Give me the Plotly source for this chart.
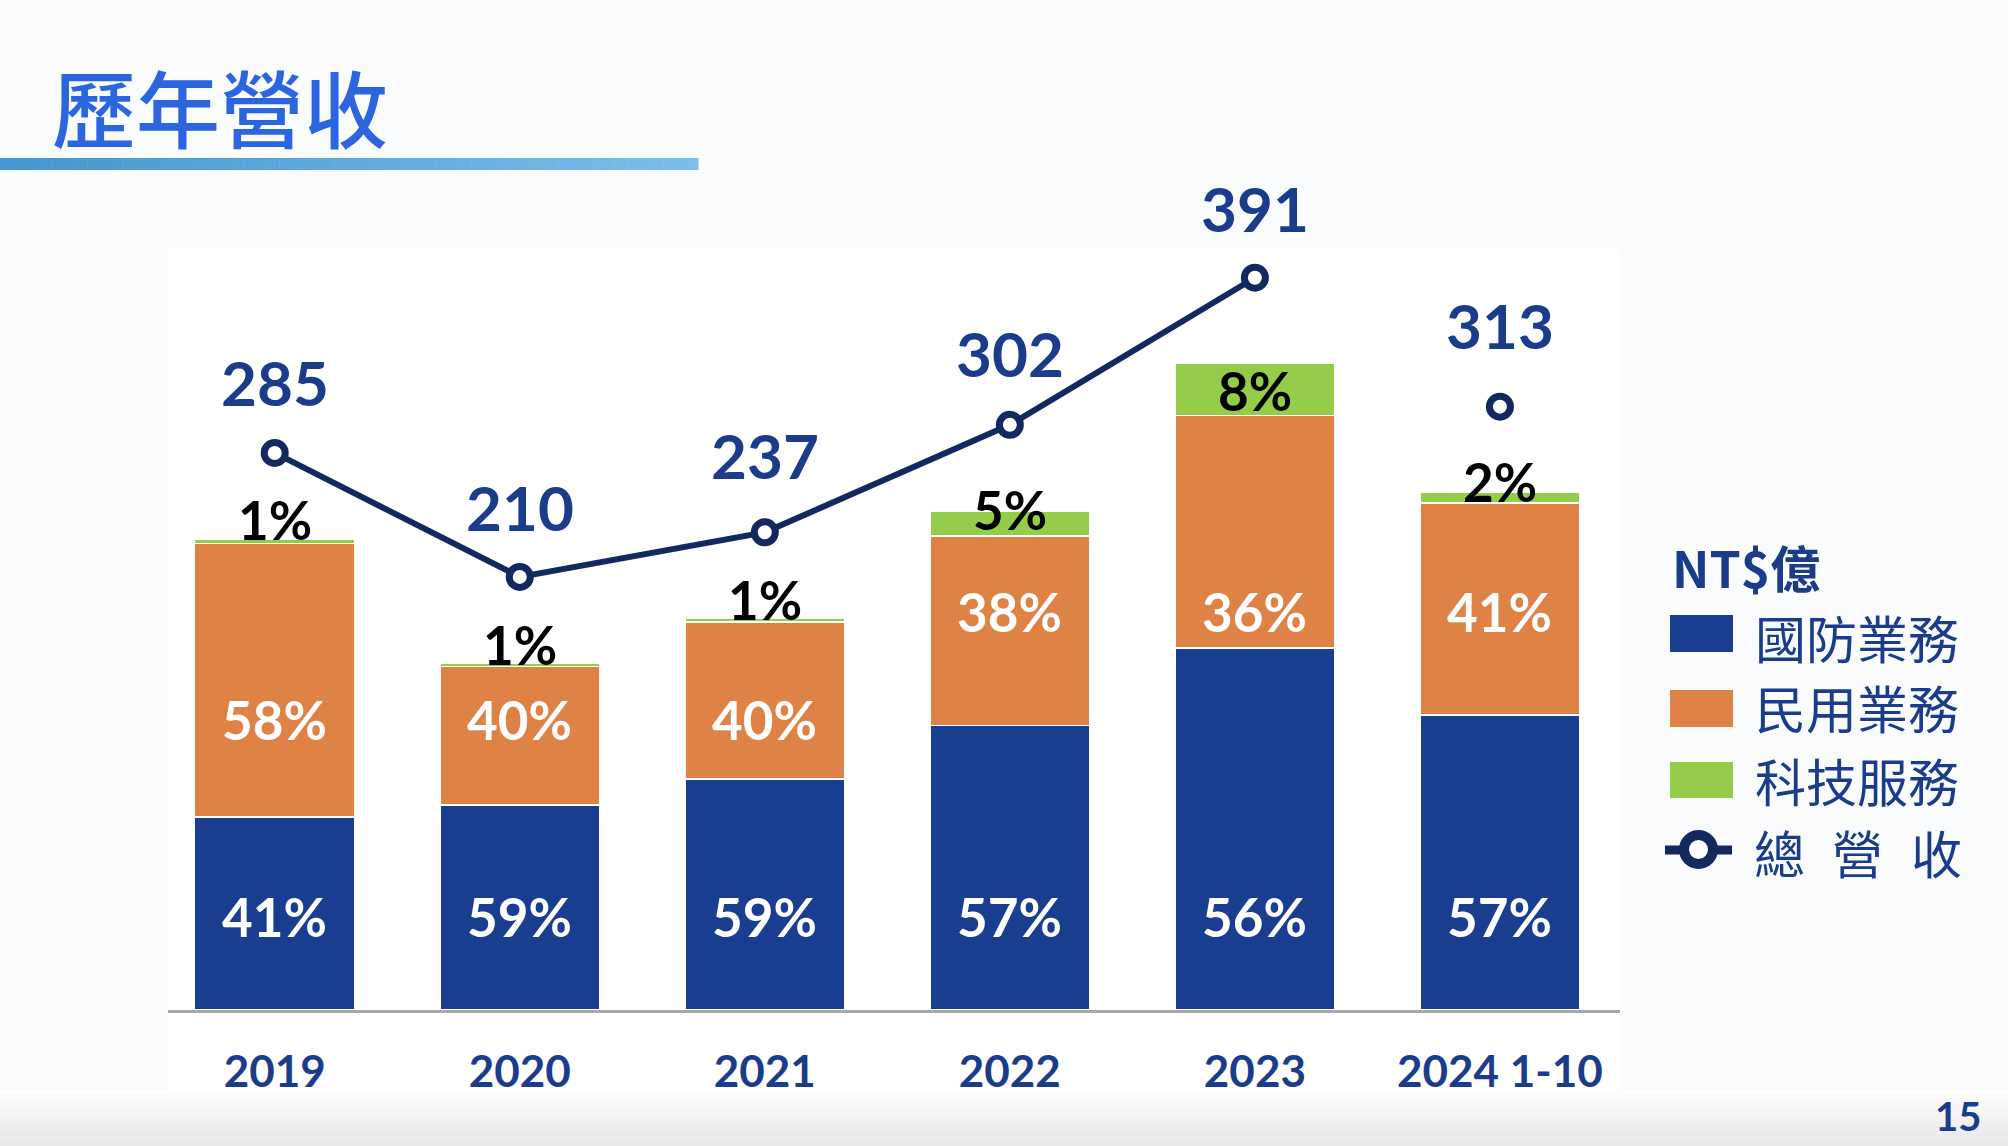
import plotly.graph_objects as go

# ---------------- data ----------------
categories = ["2019", "2020", "2021", "2022", "2023", "2024 1-10"]
defense = [116.9, 123.9, 139.8, 172.1, 219.0, 178.4]   # 國防業務 (NT$億)
civil = [165.3, 84.0, 94.8, 114.8, 140.8, 128.3]       # 民用業務
tech = [2.8, 2.1, 2.4, 15.1, 31.2, 6.3]                # 科技服務
total = [285, 210, 237, 302, 391, 313]                 # 總營收
defense_pct = ["41%", "59%", "59%", "57%", "56%", "57%"]
civil_pct = ["58%", "40%", "40%", "38%", "36%", "41%"]
tech_pct = ["1%", "1%", "1%", "5%", "8%", "2%"]

# ---------------- label placement (layout, data units) ----------------
defense_label_y = [56.5] * 6
civil_label_y = [176, 176, 176, 241, 241, 241]
tech_label_y = [296.5, 221, 248.4, 302.7, 374.7, 320]
total_label_shift = [71, 70, 77, 72, 70, 82]

# ---------------- styling ----------------
C_DEF = "#1A3E8F"
C_CIV = "#DF8245"
C_TECH = "#93CD4A"
C_LINE = "#13285F"
C_TXT = "#1A3C8A"
C_TITLE = "#2B66E0"
NUM_FONT = "Lato"
CJK_FONT = "Noto Sans CJK TC"

W, H = 2008, 1146
L, T, R_, B = 168, 249, 1620, 1010
Y_MAX = (B - T) / 1.653
LINE_OFF = 52


def fx(px):
    return (px - L) / (R_ - L)


def fy(py):
    return (B - py) / (B - T)


fig = go.Figure()
for name, vals, col in [("國防業務", defense, C_DEF), ("民用業務", civil, C_CIV), ("科技服務", tech, C_TECH)]:
    fig.add_trace(go.Bar(
        x=categories, y=vals, name=name,
        marker=dict(color=col, line=dict(color="white", width=1.5)),
        hoverinfo="skip",
    ))

fig.add_trace(go.Scatter(
    x=categories[:5], y=total[:5], yaxis="y2", mode="lines",
    line=dict(color=C_LINE, width=6), hoverinfo="skip",
))
fig.add_trace(go.Scatter(
    x=categories, y=total, yaxis="y2", mode="markers",
    marker=dict(size=21, color="white", line=dict(color=C_LINE, width=7)),
    hoverinfo="skip",
))

ann = []
for i, c in enumerate(categories):
    # category index used for x so numeric-looking category names are not read as numbers
    ann.append(dict(x=i, y=defense_label_y[i], xref="x", yref="y", text=defense_pct[i], showarrow=False,
                    font=dict(family=NUM_FONT, size=53, color="white", weight="bold")))
    ann.append(dict(x=i, y=civil_label_y[i], xref="x", yref="y", text=civil_pct[i], showarrow=False,
                    font=dict(family=NUM_FONT, size=53, color="white", weight="bold")))
    ann.append(dict(x=i, y=tech_label_y[i], xref="x", yref="y", text=tech_pct[i], showarrow=False,
                    font=dict(family=NUM_FONT, size=53, color="black", weight="bold")))
    ann.append(dict(x=i, y=total[i], xref="x", yref="y2", text=str(total[i]), showarrow=False,
                    yshift=total_label_shift[i],
                    font=dict(family=NUM_FONT, size=62, color=C_TXT, weight="bold")))

# title
ann.append(dict(x=fx(50), y=fy(106), xref="paper", yref="paper", xanchor="left", yanchor="middle",
                text="歷年營收", showarrow=False,
                font=dict(family=CJK_FONT, size=84, color=C_TITLE, weight=500)))
# legend texts
ann.append(dict(x=fx(1670), y=fy(566), xref="paper", yref="paper", xanchor="left", yanchor="middle",
                text="NT$億", showarrow=False,
                font=dict(family=CJK_FONT, size=50, color=C_TXT, weight="bold")))
for txt, py in [("國防業務", 637), ("民用業務", 707), ("科技服務", 780)]:
    ann.append(dict(x=fx(1753), y=fy(py), xref="paper", yref="paper", xanchor="left", yanchor="middle",
                    text=txt, showarrow=False, font=dict(family=CJK_FONT, size=51, color=C_TXT)))
for ch, px in [("總", 1779), ("營", 1857), ("收", 1936)]:
    ann.append(dict(x=fx(px), y=fy(852), xref="paper", yref="paper", xanchor="center", yanchor="middle",
                    text=ch, showarrow=False, font=dict(family=CJK_FONT, size=51, color=C_TXT)))
# page number
ann.append(dict(x=fx(1958), y=fy(1116), xref="paper", yref="paper", xanchor="center", yanchor="middle",
                text="15", showarrow=False, font=dict(family=NUM_FONT, size=40, color=C_TXT, weight="bold")))

shapes = []
# white chart box extension
shapes.append(dict(type="rect", xref="paper", yref="paper", x0=fx(L), x1=fx(R_), y0=fy(1090), y1=fy(T),
                   fillcolor="white", line=dict(width=0), layer="below"))
# bottom gradient
n = 14
for k in range(n):
    t = k / (n - 1)
    v = int(round(253 - t * (253 - 232)))
    shapes.append(dict(type="rect", xref="paper", yref="paper", x0=fx(0), x1=fx(W),
                       y0=fy(1090 + (k + 1) * 4), y1=fy(1090 + k * 4),
                       fillcolor=f"rgb({v},{v},{v})", line=dict(width=0), layer="below"))
# title underline gradient bar
nb = 40
x_end = 698
for k in range(nb):
    t = k / (nb - 1)
    r = int(69 + t * (125 - 69)); g = int(152 + t * (189 - 152)); b = int(208 + t * (235 - 208))
    shapes.append(dict(type="rect", xref="paper", yref="paper",
                       x0=fx(k * x_end / nb), x1=fx((k + 1) * x_end / nb + 0.5),
                       y0=fy(170), y1=fy(158), fillcolor=f"rgb({r},{g},{b})", line=dict(width=0),
                       layer="above"))
# legend swatches
for col, y0, y1 in [(C_DEF, 615, 652), (C_CIV, 690, 727), (C_TECH, 762, 798)]:
    shapes.append(dict(type="rect", xref="paper", yref="paper", x0=fx(1670), x1=fx(1733),
                       y0=fy(y1), y1=fy(y0), fillcolor=col, line=dict(width=0)))
shapes.append(dict(type="line", xref="paper", yref="paper", x0=fx(1665), x1=fx(1732), y0=fy(850), y1=fy(850),
                   line=dict(color=C_LINE, width=9)))
shapes.append(dict(type="circle", xref="paper", yref="paper", x0=fx(1684), x1=fx(1713), y0=fy(864), y1=fy(835),
                   fillcolor="white", line=dict(color=C_LINE, width=10)))

fig.update_layout(
    width=W, height=H,
    margin=dict(l=L, r=W - R_, t=T, b=H - B, pad=0),
    paper_bgcolor="#FAFBFD", plot_bgcolor="white",
    barmode="stack", bargap=0.347,
    showlegend=False,
    xaxis=dict(type="category", range=[-0.4355, 5.49], showgrid=False, zeroline=False,
               showline=True, linecolor="#A8A8A8", linewidth=3, ticks="",
               tickfont=dict(family=NUM_FONT, size=44, color=C_TXT, weight="bold"),
               ticklabelstandoff=21),
    yaxis=dict(range=[0, Y_MAX], visible=False, fixedrange=True),
    yaxis2=dict(range=[-LINE_OFF, Y_MAX - LINE_OFF], overlaying="y", visible=False),
    annotations=ann, shapes=shapes,
)

fig.write_html("out.html")
